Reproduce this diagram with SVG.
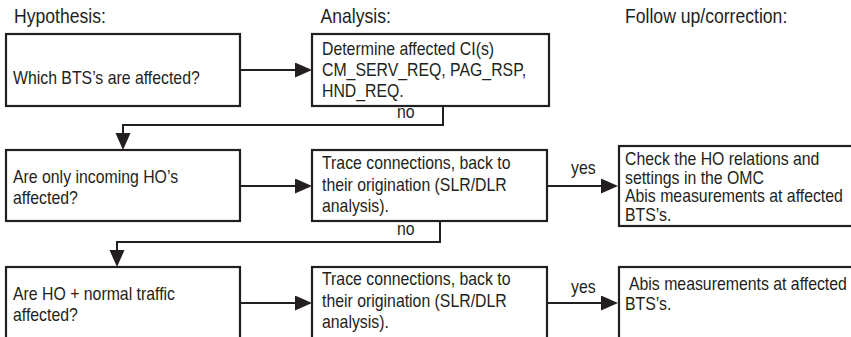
<svg xmlns="http://www.w3.org/2000/svg" width="851" height="337" viewBox="0 0 851 337">
<style>
  .box { fill: #ffffff; stroke: #231f20; stroke-width: 2.2; }
  .t { font-family: "Liberation Sans", Arial, sans-serif; font-size: 18px; fill: #231f20; }
  .h { font-family: "Liberation Sans", Arial, sans-serif; font-size: 20px; fill: #231f20; }
  .c { fill: none; stroke: #231f20; stroke-width: 2; }
</style>
<defs>
  <marker id="arr" markerUnits="userSpaceOnUse" markerWidth="18" markerHeight="16" refX="14" refY="7.5" orient="auto">
    <path d="M0,0 L17,7.5 L0,15 z" fill="#231f20"/>
  </marker>
</defs>
<rect width="851" height="337" fill="#ffffff"/>
<g id="headings">
  <text class="h" transform="translate(14,23) scale(0.88,1)">Hypothesis:</text>
  <text class="h" transform="translate(320.5,23) scale(0.88,1)">Analysis:</text>
  <text class="h" transform="translate(625,23) scale(0.88,1)">Follow up/correction:</text>
</g>
<g id="connectors">
  <path class="c" d="M240,70 L309,70" marker-end="url(#arr)"/>
  <path class="c" d="M443,106 L443,125 L123,125 L123,147" marker-end="url(#arr)"/>
  <path class="c" d="M240,186 L309,186" marker-end="url(#arr)"/>
  <path class="c" d="M547,186 L615,186" marker-end="url(#arr)"/>
  <path class="c" d="M440,221 L440,242 L117,242 L117,264" marker-end="url(#arr)"/>
  <path class="c" d="M240,303 L309,303" marker-end="url(#arr)"/>
  <path class="c" d="M547,303 L615,303" marker-end="url(#arr)"/>
  <text class="t" transform="translate(397,118) scale(0.88,1)">no</text>
  <text class="t" transform="translate(397,235) scale(0.88,1)">no</text>
  <text class="t" transform="translate(571,174) scale(0.88,1)">yes</text>
  <text class="t" transform="translate(571,293) scale(0.88,1)">yes</text>
</g>
<g id="n1">
  <rect class="box" x="6" y="34" width="234" height="72"/>
  <text class="t" transform="translate(13,84) scale(0.88,1)">Which BTS’s are affected?</text>
</g>
<g id="n2">
  <rect class="box" x="312" y="34" width="237" height="72"/>
  <text class="t" transform="translate(322,55) scale(0.88,1)">Determine affected CI(s)</text>
  <text class="t" transform="translate(322,76) scale(0.88,1)">CM_SERV_REQ, PAG_RSP,</text>
  <text class="t" transform="translate(322,97) scale(0.88,1)">HND_REQ.</text>
</g>
<g id="n3">
  <rect class="box" x="6" y="150" width="234" height="71"/>
  <text class="t" transform="translate(13,183) scale(0.88,1)">Are only incoming HO’s</text>
  <text class="t" transform="translate(13,204) scale(0.88,1)">affected?</text>
</g>
<g id="n4">
  <rect class="box" x="312" y="150" width="235" height="71"/>
  <text class="t" transform="translate(322,169) scale(0.88,1)">Trace connections, back to</text>
  <text class="t" transform="translate(322,191) scale(0.88,1)">their origination (SLR/DLR</text>
  <text class="t" transform="translate(322,212) scale(0.88,1)">analysis).</text>
</g>
<g id="n5">
  <rect class="box" x="619" y="146" width="240" height="80"/>
  <text class="t" transform="translate(625,165) scale(0.88,1)">Check the HO relations and</text>
  <text class="t" transform="translate(625,183.5) scale(0.88,1)">settings in the OMC</text>
  <text class="t" transform="translate(625,202) scale(0.88,1)">Abis measurements at affected</text>
  <text class="t" transform="translate(625,220.5) scale(0.88,1)">BTS’s.</text>
</g>
<g id="n6">
  <rect class="box" x="6" y="267" width="234" height="100"/>
  <text class="t" transform="translate(13,300) scale(0.88,1)">Are HO + normal traffic</text>
  <text class="t" transform="translate(13,321) scale(0.88,1)">affected?</text>
</g>
<g id="n7">
  <rect class="box" x="312" y="267" width="235" height="100"/>
  <text class="t" transform="translate(322,285) scale(0.88,1)">Trace connections, back to</text>
  <text class="t" transform="translate(322,307) scale(0.88,1)">their origination (SLR/DLR</text>
  <text class="t" transform="translate(322,328) scale(0.88,1)">analysis).</text>
</g>
<g id="n8">
  <rect class="box" x="619" y="267" width="240" height="100"/>
  <text class="t" transform="translate(629,290) scale(0.88,1)">Abis measurements at affected</text>
  <text class="t" transform="translate(625,310) scale(0.88,1)">BTS’s.</text>
</g>
</svg>
